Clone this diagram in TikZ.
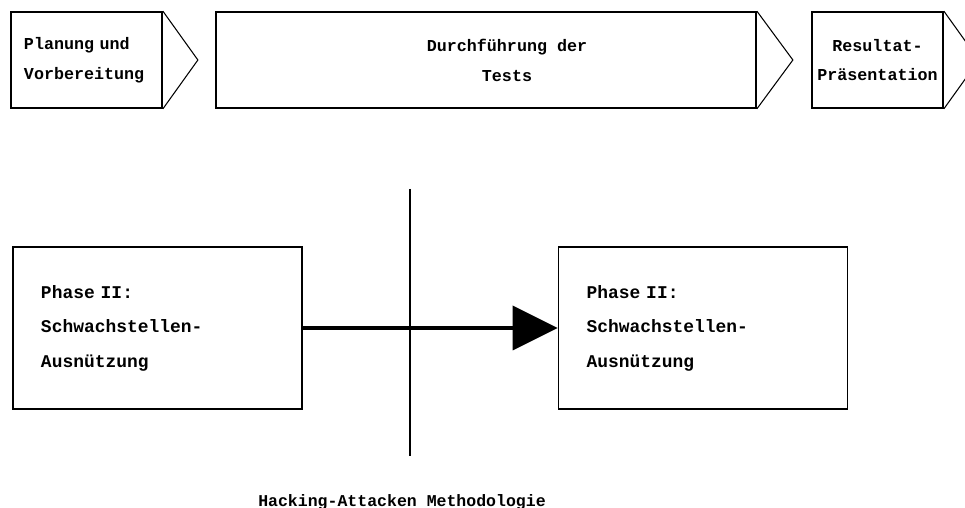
\documentclass[tikz,border=0pt]{standalone}
\usepackage{fontspec}
\setmainfont{Liberation Mono}
\usetikzlibrary{positioning,arrows.meta,calc}

\begin{document}
\begin{tikzpicture}[
    phase/.style={rectangle, draw, line width=1pt, minimum height=1.92cm, font=\fontsize{9.5}{17}\selectfont\bfseries},
    stage/.style={rectangle, draw, line width=1pt, minimum height=3.24cm, text width=4.66cm, inner xsep=0.56cm, align=left, font=\fontsize{10.2}{19.6}\selectfont\bfseries},
    chev/.style={line width=0.6pt}
]
    \useasboundingbox (0,0) rectangle (19.3,10.16);
    \clip (0,0) rectangle (19.3,10.16);

    % process steps
    \node[phase, text width=2.5cm, inner xsep=0.26cm, align=left] (plan) at (1.73,8.96) {Planung und\\Vorbereitung};
    \node[phase, minimum width=10.8cm] (test) at (9.72,8.96) {};
    \node[font=\fontsize{9.5}{17}\selectfont\bfseries, align=center] (testtxt) at (10.14,8.96) {Durchführung der\\Tests};
    \node[phase, minimum width=2.62cm, inner xsep=0pt, align=center] (res) at (17.55,8.96) {Resultat-\\Präsentation};

    \draw[chev] (plan.north east) -- ($(plan.east)+(0.7,0)$) -- (plan.south east);
    \draw[chev] (test.north east) -- ($(test.east)+(0.72,0)$) -- (test.south east);
    \draw[chev] (res.north east) -- ($(res.east)+(0.7,0)$) -- (res.south east);

    % phases
    \node[stage] (left) at (3.15,3.6) {Phase II:\\Schwachstellen-\\Ausnützung};
    \node[stage] (right) at (14.06,3.6) {Phase II:\\Schwachstellen-\\Ausnützung};

    \coordinate (vtop) at (8.2,6.38);
    \coordinate (vbot) at (8.2,1.04);
    \draw[line width=1pt] (vtop) -- (vbot);

    \draw[line width=2.2pt, -{Triangle[length=0.9cm,width=0.88cm]}] (left) -- (right);

    \node[anchor=base, font=\fontsize{9.4}{11}\selectfont\bfseries] (title) at (8.04,0.02) {Hacking-Attacken Methodologie};
\end{tikzpicture}
\end{document}
